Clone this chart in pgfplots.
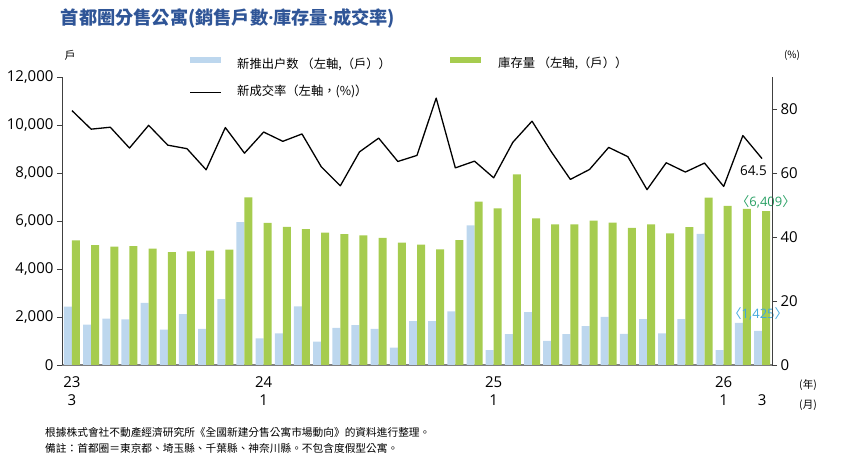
\documentclass[border=0pt]{standalone}
\usepackage{pgfplots}
\pgfplotsset{compat=1.18}
\usepackage{fontspec}
\setmainfont{Open Sans}
\newfontfamily\cjk{Noto Sans CJK TC}
\definecolor{barblue}{RGB}{189,215,238}
\definecolor{bargreen}{RGB}{166,204,79}
\definecolor{titleblue}{RGB}{47,85,151}
\definecolor{annogreen}{RGB}{40,160,100}
\definecolor{annoblue}{RGB}{65,168,223}
\begin{document}
\begin{tikzpicture}
\useasboundingbox (0pt,0pt) rectangle (863pt,468pt);
\begin{axis}[at={(62pt,103pt)},anchor=south west,scale only axis,width=710pt,height=288pt,
  xmin=-0.52,xmax=36.52,ymin=0,ymax=12000,
  axis x line*=bottom, axis y line*=left,
  x axis line style={-,draw=black!50,line width=1.6pt},
  y axis line style={-,draw=black!75,line width=0.8pt},
  /pgf/number format/assume math mode=true,
  tick label style={font=\fontsize{15}{18}\selectfont},
  tick align=outside, major tick length=5pt,
  ytick style={draw=black!75,line width=0.8pt},
  xtick={0,10,22,34,36},
  xticklabels={{23\\3},{24\\1},{25\\1},{26\\1},{\vphantom{2}\\3}},
  xticklabel style={align=center,yshift=-3pt},
  major x tick style={draw=none},
  ytick={0,2000,...,12000},
  scaled y ticks=false,
  yticklabel style={/pgf/number format/1000 sep={,}},
  clip=false]
\addplot[ybar,bar width=8pt,bar shift=-4pt,fill=barblue,draw=none] coordinates {
(0,2430)(1,1680)(2,1930)(3,1900)(4,2590)(5,1470)(6,2120)(7,1500)(8,2740)(9,5950)
(10,1110)(11,1320)(12,2440)(13,970)(14,1550)(15,1660)(16,1500)(17,720)(18,1830)(19,1830)
(20,2230)(21,5820)(22,620)(23,1290)(24,2200)(25,1000)(26,1290)(27,1620)(28,2000)(29,1300)
(30,1910)(31,1320)(32,1910)(33,5460)(34,620)(35,1760)(36,1425)};
\addplot[ybar,bar width=8pt,bar shift=4pt,fill=bargreen,draw=none] coordinates {
(0,5190)(1,4990)(2,4930)(3,4950)(4,4850)(5,4700)(6,4730)(7,4770)(8,4810)(9,6980)
(10,5920)(11,5750)(12,5660)(13,5520)(14,5450)(15,5400)(16,5300)(17,5100)(18,5020)(19,4820)
(20,5200)(21,6810)(22,6530)(23,7940)(24,6110)(25,5860)(26,5860)(27,6020)(28,5930)(29,5710)
(30,5860)(31,5480)(32,5740)(33,6970)(34,6630)(35,6500)(36,6409)};
\node[text=annogreen,font=\fontsize{13}{13}\selectfont] at (axis cs:36.2,6790) {{\cjk 〈}6,409{\cjk 〉}};
\node[text=annoblue,font=\fontsize{13}{13}\selectfont] at (axis cs:35.8,2125) {{\cjk 〈}1,425{\cjk 〉}};
\end{axis}
\begin{axis}[at={(62pt,103pt)},anchor=south west,scale only axis,width=710pt,height=288pt,
  xmin=-0.52,xmax=36.52,ymin=0,ymax=90,
  axis x line=none, axis y line*=right,
  y axis line style={-,draw=black!75,line width=0.8pt},
  /pgf/number format/assume math mode=true,
  tick label style={font=\fontsize{15}{18}\selectfont},
  tick align=outside, major tick length=5pt,
  ytick style={draw=black!75,line width=0.8pt},
  ytick={0,20,40,60,80},
  clip=false]
\addplot[black,line width=1.3pt,line join=round,mark=none] coordinates {
(0,79.5)(1,73.7)(2,74.3)(3,67.8)(4,74.9)(5,68.7)(6,67.6)(7,61.0)(8,74.2)(9,66.2)
(10,72.8)(11,69.9)(12,72.2)(13,62.0)(14,56.0)(15,66.6)(16,70.9)(17,63.6)(18,65.5)(19,83.4)
(20,61.6)(21,63.7)(22,58.5)(23,69.6)(24,76.2)(25,66.7)(26,58.0)(27,61.1)(28,68.0)(29,65.1)
(30,54.8)(31,63.2)(32,60.3)(33,63.1)(34,55.8)(35,71.7)(36,64.5)};
\node[font=\fontsize{13.5}{13.5}\selectfont] at (axis cs:35.55,60.7) {64.5};
\end{axis}
% title
\node[text=titleblue,font=\cjk\bfseries\fontsize{18.2}{18.2}\selectfont] at (228pt,449.5pt) {首都圈分售公寓(銷售戶數{\rmfamily\bfseries·}庫存量{\rmfamily\bfseries·}成交率)};
% legend
\fill[barblue] (190pt,404.5pt) rectangle (221pt,410.5pt);
\node[anchor=west,inner sep=0pt,font=\cjk\fontsize{12.3}{12.3}\selectfont] at (237pt,404pt) {新推出户数 （左軸,（戶））};
\draw[black,line width=1.3pt] (190pt,375.5pt) -- (221pt,375.5pt);
\node[anchor=west,inner sep=0pt,font=\cjk\fontsize{12.3}{12.3}\selectfont] at (237pt,377pt) {新成交率（左軸，(\%)）};
\fill[bargreen] (450pt,404.5pt) rectangle (481pt,410.5pt);
\node[anchor=west,inner sep=0pt,font=\cjk\fontsize{12.3}{12.3}\selectfont] at (498pt,405pt) {庫存量 （左軸,（戶））};
% units
\node[font=\cjk\fontsize{11}{11}\selectfont] at (70pt,413pt) {戶};
\node[font=\cjk\fontsize{10}{10}\selectfont] at (792pt,413pt) {(\%)};
\node[font=\cjk\fontsize{10.5}{10.5}\selectfont] at (808pt,83pt) {(年)};
\node[font=\cjk\fontsize{10.5}{10.5}\selectfont] at (808pt,63pt) {(月)};
% footnotes
\node[anchor=west,inner sep=0pt,font=\cjk\fontsize{10.7}{12}\selectfont] at (45pt,35.3pt) {根據株式會社不動產經濟研究所《全國新建分售公寓市場動向》的資料進行整理。};
\node[anchor=west,inner sep=0pt,font=\cjk\fontsize{10.7}{12}\selectfont] at (45pt,20pt) {備註：首都圈＝東京都、埼玉縣、千葉縣、神奈川縣。不包含度假型公寓。};
\end{tikzpicture}
\end{document}
